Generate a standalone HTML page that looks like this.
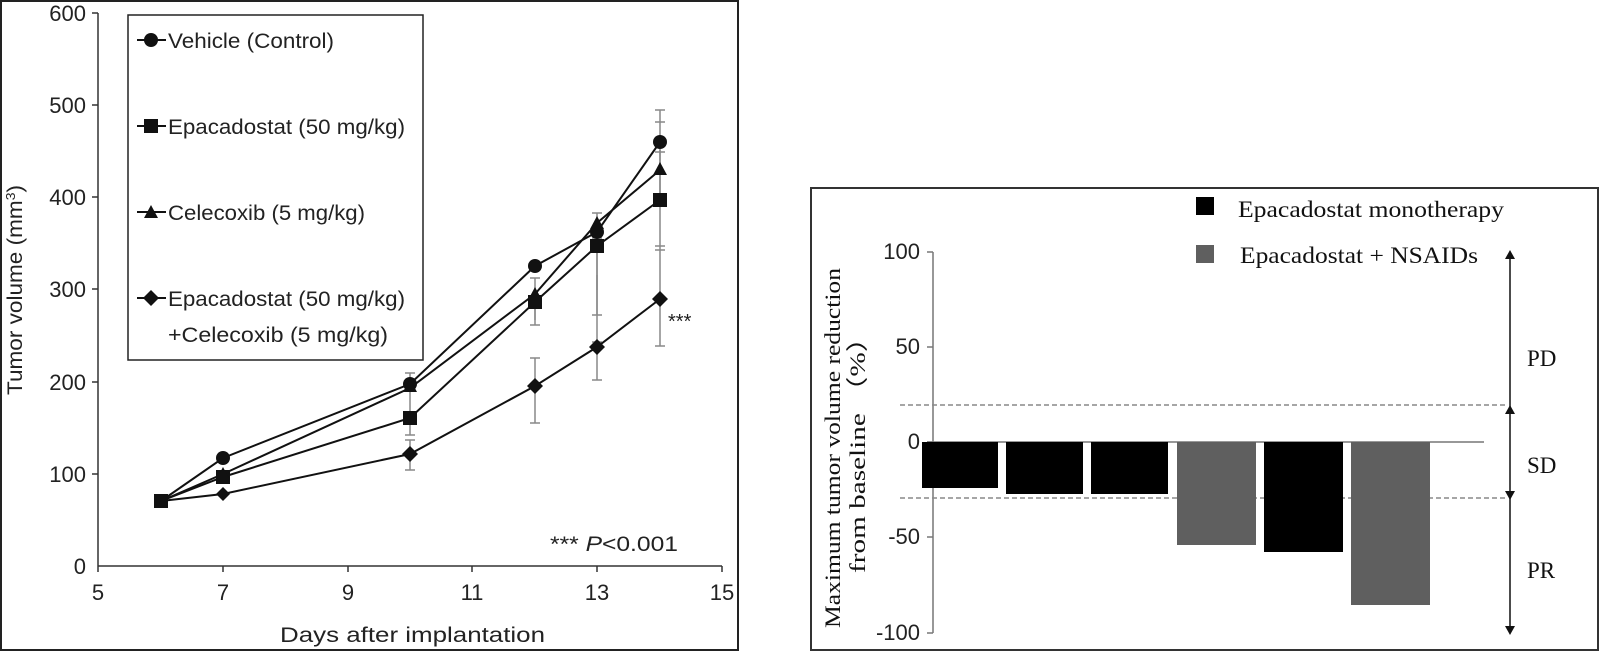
<!DOCTYPE html>
<html><head><meta charset="utf-8"><style>
html,body{margin:0;padding:0;background:#fff;}
svg{display:block;}
.s{font-family:"Liberation Sans",sans-serif;fill:#222;}
.r{font-family:"Liberation Serif",serif;fill:#111;}
</style></head><body>
<svg width="1600" height="662" viewBox="0 0 1600 662" xmlns="http://www.w3.org/2000/svg">
<!-- Left panel -->
<rect x="1" y="1" width="737" height="649" fill="none" stroke="#222" stroke-width="2"/>
<g stroke="#333" stroke-width="1.5" fill="none">
<line x1="98" y1="13" x2="98" y2="566"/>
<line x1="98" y1="566" x2="722" y2="566"/>
<line x1="92" y1="13" x2="98" y2="13"/><line x1="92" y1="105" x2="98" y2="105"/><line x1="92" y1="197" x2="98" y2="197"/><line x1="92" y1="289" x2="98" y2="289"/><line x1="92" y1="382" x2="98" y2="382"/><line x1="92" y1="474" x2="98" y2="474"/>
<line x1="223" y1="566" x2="223" y2="572"/><line x1="348" y1="566" x2="348" y2="572"/><line x1="472" y1="566" x2="472" y2="572"/><line x1="597" y1="566" x2="597" y2="572"/><line x1="722" y1="566" x2="722" y2="572"/><line x1="98" y1="566" x2="98" y2="572"/>
</g>
<g class="s" font-size="22" text-anchor="end">
<text x="86" y="21">600</text><text x="86" y="113">500</text><text x="86" y="205">400</text><text x="86" y="297">300</text><text x="86" y="390">200</text><text x="86" y="482">100</text><text x="86" y="574">0</text>
</g>
<g class="s" font-size="22" text-anchor="middle">
<text x="98" y="600">5</text><text x="223" y="600">7</text><text x="348" y="600">9</text><text x="472" y="600">11</text><text x="597" y="600">13</text><text x="722" y="600">15</text>
</g>
<text class="s" x="280" y="642" font-size="21" textLength="265" lengthAdjust="spacingAndGlyphs">Days after implantation</text>
<text class="s" font-size="21" text-anchor="middle" transform="translate(22,290) rotate(-90)" textLength="210" lengthAdjust="spacingAndGlyphs">Tumor volume (mm<tspan font-size="13" dy="-7">3</tspan><tspan dy="7">)</tspan></text>
<!-- error bars -->
<g stroke="#888" stroke-width="1.5">
<line x1="597" y1="213" x2="597" y2="290"/><line x1="592" y1="213" x2="602" y2="213"/>
<line x1="597" y1="238" x2="597" y2="300"/><line x1="592" y1="238" x2="602" y2="238"/>
<line x1="597" y1="300" x2="597" y2="342"/><line x1="592" y1="342" x2="602" y2="342"/>
<line x1="597" y1="275" x2="597" y2="315"/><line x1="592" y1="315" x2="602" y2="315"/>
<line x1="597" y1="340" x2="597" y2="380"/><line x1="592" y1="380" x2="602" y2="380"/>
<line x1="660" y1="110" x2="660" y2="200"/><line x1="655" y1="110" x2="665" y2="110"/><line x1="655" y1="122" x2="665" y2="122"/>
<line x1="660" y1="150" x2="660" y2="250"/><line x1="655" y1="152" x2="665" y2="152"/><line x1="655" y1="250" x2="665" y2="250"/>
<line x1="660" y1="250" x2="660" y2="346"/><line x1="655" y1="346" x2="665" y2="346"/><line x1="655" y1="246" x2="665" y2="246"/>
<line x1="535" y1="278" x2="535" y2="320"/><line x1="530" y1="278" x2="540" y2="278"/>
<line x1="535" y1="290" x2="535" y2="325"/><line x1="530" y1="325" x2="540" y2="325"/>
<line x1="535" y1="358" x2="535" y2="423"/><line x1="530" y1="358" x2="540" y2="358"/><line x1="530" y1="423" x2="540" y2="423"/>
<line x1="410" y1="373" x2="410" y2="400"/><line x1="405" y1="373" x2="415" y2="373"/>
<line x1="410" y1="440" x2="410" y2="470"/><line x1="405" y1="440" x2="415" y2="440"/><line x1="405" y1="470" x2="415" y2="470"/>
<line x1="410" y1="400" x2="410" y2="435"/><line x1="405" y1="435" x2="415" y2="435"/>
</g>
<!-- lines -->
<g stroke="#111" stroke-width="2" fill="none">
<polyline points="161,501 223,458 410,384 535,266 597,232 660,142"/>
<polyline points="161,501 223,477 410,418 535,302 597,246 660,200"/>
<polyline points="161,501 223,474 410,388 535,294 597,223 660,170"/>
<polyline points="161,501 223,494 410,454 535,386 597,347 660,299"/>
</g>
<g fill="#111">
<circle cx="161" cy="501" r="7"/><circle cx="223" cy="458" r="7"/><circle cx="410" cy="384" r="7"/><circle cx="535" cy="266" r="7"/><circle cx="597" cy="232" r="7"/><circle cx="660" cy="142" r="7"/>
<rect x="154" y="494" width="14" height="14"/><rect x="216" y="470" width="14" height="14"/><rect x="403" y="411" width="14" height="14"/><rect x="528" y="295" width="14" height="14"/><rect x="590" y="239" width="14" height="14"/><rect x="653" y="193" width="14" height="14"/>
<polygon points="410,379 417,392 403,392"/><polygon points="535,287 542,300 528,300"/><polygon points="597,216 604,229 590,229"/><polygon points="660,162 667,175 653,175"/><polygon points="223,467 230,480 216,480"/>
<polygon points="223,487 230,494 223,501 216,494"/><polygon points="410,446 418,454 410,462 402,454"/><polygon points="535,378 543,386 535,394 527,386"/><polygon points="597,339 605,347 597,355 589,347"/><polygon points="660,291 668,299 660,307 652,299"/>
</g>
<text class="s" x="668" y="328" font-size="20">***</text>
<text class="s" x="550" y="551" font-size="21" textLength="128" lengthAdjust="spacingAndGlyphs">*** <tspan font-style="italic">P</tspan>&lt;0.001</text>
<!-- legend -->
<rect x="128" y="15" width="295" height="345" fill="#fff" stroke="#222" stroke-width="1.5"/>
<g stroke="#111" stroke-width="2"><line x1="137" y1="40" x2="166" y2="40"/><line x1="137" y1="126" x2="166" y2="126"/><line x1="137" y1="212" x2="166" y2="212"/><line x1="137" y1="298" x2="166" y2="298"/></g>
<g fill="#111"><circle cx="151" cy="40" r="7"/><rect x="144" y="119" width="14" height="14"/><polygon points="151,205 158,218 144,218"/><polygon points="151,290 159,298 151,306 143,298"/></g>
<g class="s" font-size="21">
<text x="168" y="48" textLength="166" lengthAdjust="spacingAndGlyphs">Vehicle (Control)</text>
<text x="168" y="134" textLength="237" lengthAdjust="spacingAndGlyphs">Epacadostat (50 mg/kg)</text>
<text x="168" y="220" textLength="197" lengthAdjust="spacingAndGlyphs">Celecoxib (5 mg/kg)</text>
<text x="168" y="306" textLength="237" lengthAdjust="spacingAndGlyphs">Epacadostat (50 mg/kg)</text>
<text x="168" y="342" textLength="220" lengthAdjust="spacingAndGlyphs">+Celecoxib (5 mg/kg)</text>
</g>
<!-- Right panel -->
<rect x="811" y="188" width="787" height="462" fill="none" stroke="#333" stroke-width="2"/>
<g stroke="#777" stroke-width="1.5" fill="none">
<line x1="933" y1="252" x2="933" y2="633"/>
<line x1="927" y1="252" x2="933" y2="252"/><line x1="927" y1="347" x2="933" y2="347"/><line x1="927" y1="442" x2="933" y2="442"/><line x1="927" y1="537" x2="933" y2="537"/><line x1="927" y1="633" x2="933" y2="633"/>
<line x1="927" y1="442" x2="1484" y2="442"/>
</g>
<g stroke="#888" stroke-width="1.5" stroke-dasharray="5,3">
<line x1="900" y1="405" x2="1505" y2="405"/>
<line x1="900" y1="498" x2="1505" y2="498"/>
</g>
<g fill="#000">
<rect x="922" y="442" width="76" height="46"/>
<rect x="1006" y="442" width="77" height="52"/>
<rect x="1091" y="442" width="77" height="52"/>
<rect x="1264" y="442" width="79" height="110"/>
</g>
<g fill="#5f5f5f">
<rect x="1177" y="442" width="79" height="103"/>
<rect x="1351" y="442" width="79" height="163"/>
</g>
<g class="s" font-size="22" text-anchor="end" fill="#333">
<text x="920" y="259">100</text><text x="920" y="354">50</text><text x="920" y="449">0</text><text x="920" y="544">-50</text><text x="920" y="640">-100</text>
</g>
<g class="r" font-size="22" text-anchor="middle">
<text transform="translate(840,448) rotate(-90)" textLength="360" lengthAdjust="spacingAndGlyphs">Maximum tumor volume reduction</text>
<text transform="translate(865,448) rotate(-90)" textLength="250" lengthAdjust="spacingAndGlyphs">from baseline （%）</text>
</g>
<rect x="1196" y="197" width="18" height="18" fill="#000"/>
<rect x="1196" y="245" width="18" height="18" fill="#5f5f5f"/>
<text class="r" x="1238" y="217" font-size="23" textLength="266" lengthAdjust="spacingAndGlyphs">Epacadostat monotherapy</text>
<text class="r" x="1240" y="263" font-size="23" textLength="238" lengthAdjust="spacingAndGlyphs">Epacadostat + NSAIDs</text>
<g stroke="#111" stroke-width="1.5"><line x1="1510" y1="254" x2="1510" y2="631"/></g>
<g fill="#111">
<polygon points="1510,250 1505,259 1515,259"/>
<polygon points="1510,405 1505,414 1515,414"/>
<polygon points="1510,500 1505,491 1515,491"/>
<polygon points="1510,635 1505,626 1515,626"/>
</g>
<g class="r" font-size="23">
<text x="1527" y="366">PD</text><text x="1527" y="473">SD</text><text x="1527" y="578">PR</text>
</g>
</svg>
</body></html>
